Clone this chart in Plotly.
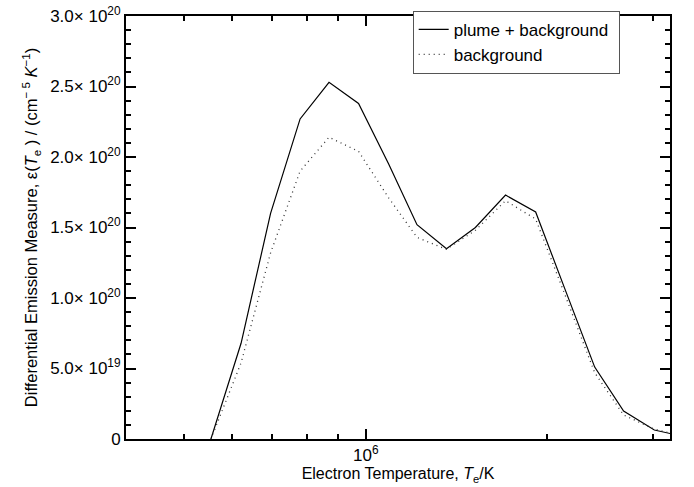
import plotly.graph_objects as go

# log10 of electron temperature (K) at the data points
log_te = [5.743, 5.793, 5.842, 5.891, 5.939, 5.988, 6.038, 6.085, 6.134,
          6.182, 6.232, 6.282, 6.330, 6.380, 6.428, 6.479, 6.530]
# DEM values in units of 1e20 cm^-5 K^-1
plume_bg = [0.0, 0.679, 1.60, 2.27, 2.53, 2.38, 1.95, 1.52, 1.35,
            1.50, 1.73, 1.61, 1.07, 0.51, 0.198, 0.064, 0.015]
background = [0.0, 0.54, 1.32, 1.90, 2.14, 2.04, 1.71, 1.43, 1.345,
              1.48, 1.69, 1.56, 1.03, 0.47, 0.17, 0.07, 0.014]

y_tickvals = [0, 5e19, 1e20, 1.5e20, 2e20, 2.5e20, 3e20]
y_ticktext = ["0", "5.0× 10<sup>19</sup>", "1.0× 10<sup>20</sup>", "1.5× 10<sup>20</sup>",
              "2.0× 10<sup>20</sup>", "2.5× 10<sup>20</sup>", "3.0× 10<sup>20</sup>"]
x_major = [1e6]
x_major_text = ["10<sup>6</sup>"]
x_minor = [4e5, 5e5, 6e5, 7e5, 8e5, 9e5, 2e6, 3e6]

te = [10 ** v for v in log_te]
scale = 1e20

fig = go.Figure()
fig.add_trace(go.Scatter(x=te, y=[v * scale for v in plume_bg], mode="lines",
                         name="plume + background ",
                         line=dict(color="black", width=1.2)))
fig.add_trace(go.Scatter(x=te, y=[v * scale for v in background], mode="lines",
                         name="background",
                         line=dict(color="#333333", width=1.3, dash="1px,4px")))

font = dict(family="Liberation Sans, Arial, sans-serif", size=17, color="black")

fig.update_layout(
    width=694, height=487,
    margin=dict(l=126, r=24, t=15, b=48),
    paper_bgcolor="white", plot_bgcolor="white",
    font=font,
    showlegend=True,
    legend=dict(x=0.527, y=1.01, xanchor="left", yanchor="top",
                bordercolor="#555555", borderwidth=1, bgcolor="white",
                font=font, tracegroupgap=0),
)
fig.update_xaxes(
    type="log", range=[5.602, 6.505], automargin=False,
    tickmode="array", tickvals=x_major, ticktext=x_major_text,
    ticks="inside", ticklen=10, tickwidth=2, tickcolor="#000000",
    showline=True, linewidth=2, linecolor="black", mirror="allticks",
    showgrid=False, zeroline=False,
    minor=dict(tickvals=x_minor, ticks="inside", ticklen=5, tickwidth=2,
               tickcolor="#000000", showgrid=False),
    title=dict(text="Electron Temperature, <i>T</i><sub>e</sub>/K", standoff=0,
               font=dict(size=16)),
)
fig.update_yaxes(
    range=[0, 3e20], automargin=False,
    tickmode="array", tickvals=y_tickvals, ticktext=y_ticktext,
    ticks="inside", ticklen=10, tickwidth=2, tickcolor="#000000",
    showline=True, linewidth=2, linecolor="black", mirror="allticks",
    showgrid=False, zeroline=False,
    minor=dict(dtick=1e19, ticks="inside", ticklen=5, tickwidth=2,
               tickcolor="#000000", showgrid=False),
    title=dict(text="Differential Emission Measure, ε(<i>T</i><sub>e</sub> ) / (cm<sup>− 5</sup> <i>K</i><sup>−1</sup>)",
               standoff=8, font=dict(size=16.5)),
)

fig.write_html("out.html")
